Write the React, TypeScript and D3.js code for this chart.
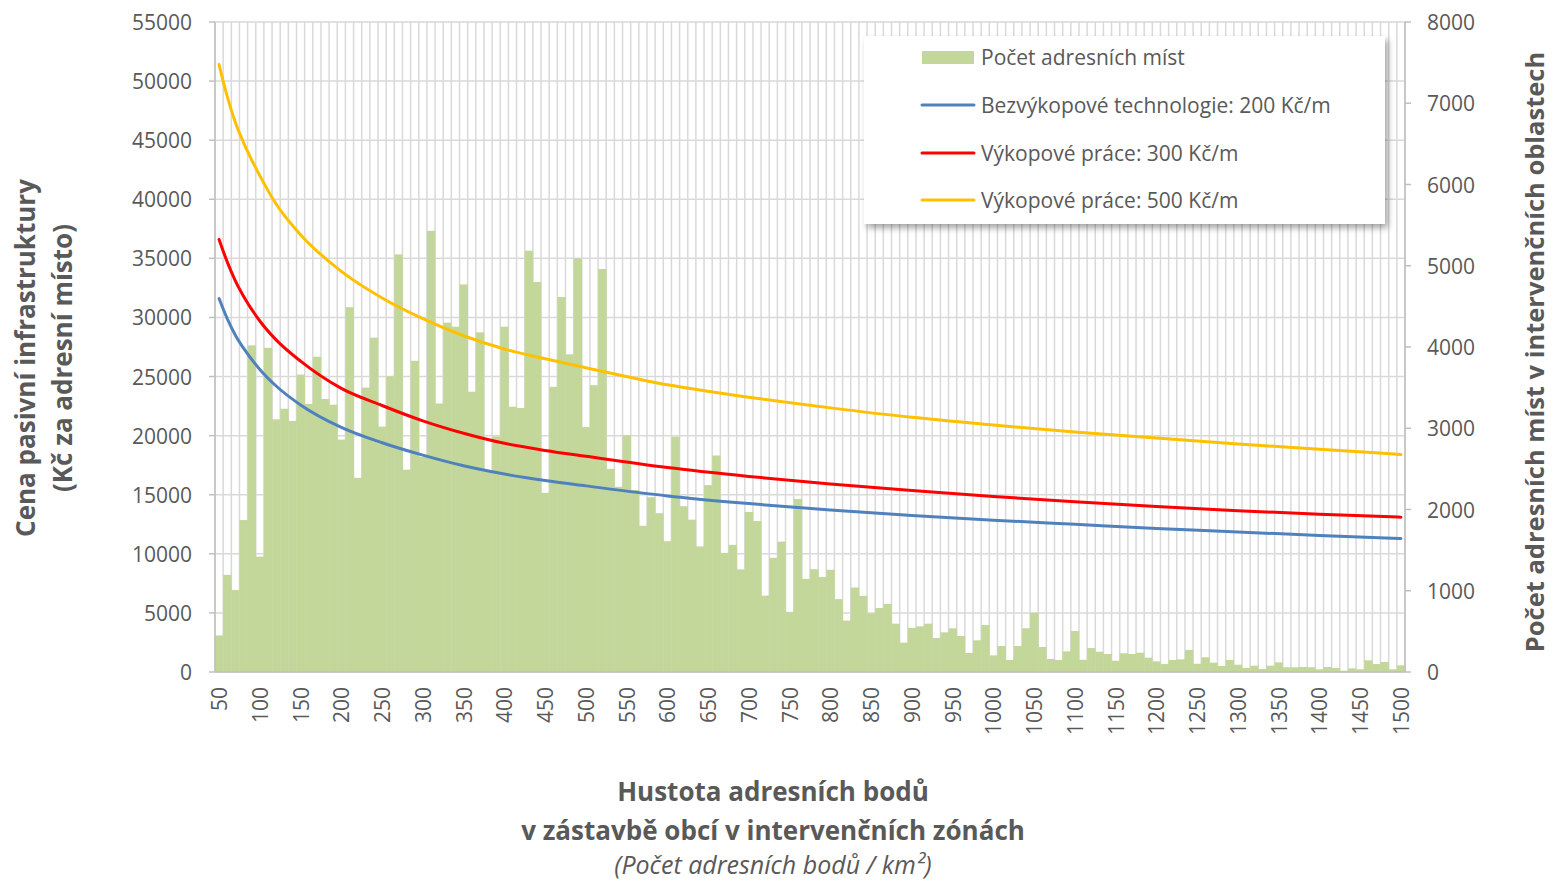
import React from "react";
import * as d3 from "d3";

// categories: density of address points per km2
const densities = d3.range(50, 1501, 10);

// bars: number of address points (right axis), one per category
const pocetMist = [
  450, 1195, 1010, 1870, 4020, 1420, 3990, 3110, 3240, 3090,
  3660, 3300, 3880, 3360, 3290, 2860, 4490, 2390, 3500, 4115,
  3020, 3640, 5140, 2490, 3830, 2650, 5430, 3305, 4300, 4250,
  4770, 3450, 4180, 2470, 2900, 4250, 3265, 3250, 5185, 4800,
  2205, 3510, 4615, 3910, 5090, 3015, 3530, 4960, 2500, 2280,
  2915, 2240, 1800, 2150, 1955, 1610, 2895, 2040, 1875, 1545,
  2300, 2665, 1465, 1565, 1262, 1970, 1858, 940, 1405, 1605,
  740, 2130, 1147, 1265, 1170, 1258, 897, 633, 1040, 937,
  723, 788, 838, 595, 361, 543, 562, 595, 418, 488,
  538, 443, 234, 390, 578, 205, 320, 148, 320, 538,
  730, 308, 160, 148, 254, 505, 151, 295, 250, 222,
  139, 230, 222, 238, 176, 131, 98, 148, 156, 271,
  102, 181, 115, 74, 148, 90, 49, 78, 37, 78,
  119, 58, 58, 62, 58, 33, 62, 49, 16, 45,
  33, 144, 98, 123, 33, 82,
];

// cost curves (left axis), read at these densities
const lineDensities = [50, 60, 70, 80, 100, 120, 150, 200, 250, 300, 350, 400, 450, 500, 600, 700, 800, 900, 1000, 1100, 1200, 1300, 1400, 1500];
const bezvykopove = [31600, 29900, 28500, 27400, 25600, 24200, 22600, 20700, 19400, 18350, 17450, 16750, 16200, 15750, 14900, 14250, 13700, 13250, 12850, 12500, 12150, 11850, 11550, 11300];
const vykop300 = [36600, 34700, 33100, 31800, 29700, 28100, 26300, 24000, 22550, 21250, 20200, 19350, 18750, 18250, 17300, 16550, 15900, 15350, 14850, 14400, 14000, 13650, 13350, 13100];
const vykop500 = [51400, 48700, 46500, 44800, 42000, 39600, 37000, 33900, 31650, 29900, 28450, 27330, 26500, 25750, 24300, 23250, 22350, 21550, 20900, 20300, 19800, 19300, 18850, 18400];

const leftTicks = d3.range(0, 55001, 5000);
const rightTicks = d3.range(0, 8001, 1000);
const xTickLabels = densities.filter((d) => d % 50 === 0);

const series = [
  { name: "Bezvýkopové technologie: 200 Kč/m", values: bezvykopove, color: "#4f81bd" },
  { name: "Výkopové práce: 300 Kč/m", values: vykop300, color: "#ff0000" },
  { name: "Výkopové práce: 500 Kč/m", values: vykop500, color: "#ffc000" },
];

const W = 1553;
const H = 882;
const plot = { left: 215, right: 1405, top: 22, bottom: 672 };
const textColor = "#595959";
const font = "'Open Sans', sans-serif";
const barColor = "#c4d79b";

export default function App() {
  const x = d3.scaleBand<number>().domain(densities).range([plot.left, plot.right]).padding(0);
  const yL = d3.scaleLinear().domain([0, 55000]).range([plot.bottom, plot.top]);
  const yR = d3.scaleLinear().domain([0, 8000]).range([plot.bottom, plot.top]);
  const cx = (d: number) => (x(d) as number) + x.bandwidth() / 2;

  const lineGen = d3
    .line<number>()
    .x((_, i) => cx(lineDensities[i]))
    .y((v) => yL(v))
    .curve(d3.curveMonotoneX);

  const gridX = densities.map((d) => x(d) as number).concat([plot.right]);

  const legendY = [57, 105, 153, 200];

  return (
    <svg width={W} height={H} style={{ position: "absolute", left: 0, top: 0, background: "#fff" }} fontFamily={font}>
      <defs>
        <filter id="shadow" x="-10%" y="-10%" width="130%" height="140%">
          <feDropShadow dx="3" dy="4" stdDeviation="3" floodColor="#000" floodOpacity="0.35" />
        </filter>
      </defs>

      {/* grid */}
      <g stroke="#d9d9d9" strokeWidth={1.5}>
        {gridX.map((gx, i) => (
          <line key={"gx" + i} x1={gx} x2={gx} y1={plot.top} y2={plot.bottom} />
        ))}
        {leftTicks.map((t) => (
          <line key={"gy" + t} x1={plot.left} x2={plot.right} y1={yL(t)} y2={yL(t)} />
        ))}
      </g>

      {/* bars */}
      <g fill={barColor}>
        {pocetMist.map((v, i) => (
          <rect key={i} x={x(densities[i])} y={yR(v)} width={x.bandwidth() + 0.3} height={yR(0) - yR(v)} />
        ))}
      </g>

      {/* axes */}
      <g stroke="#bfbfbf" strokeWidth={1.5}>
        <line x1={plot.left} x2={plot.left} y1={plot.top} y2={plot.bottom} />
        <line x1={plot.right} x2={plot.right} y1={plot.top} y2={plot.bottom} />
        <line x1={plot.left} x2={plot.right} y1={plot.bottom} y2={plot.bottom} />
        {leftTicks.map((t) => (
          <line key={"lt" + t} x1={plot.left - 6} x2={plot.left} y1={yL(t)} y2={yL(t)} />
        ))}
        {rightTicks.map((t) => (
          <line key={"rt" + t} x1={plot.right} x2={plot.right + 6} y1={yR(t)} y2={yR(t)} />
        ))}
      </g>

      {/* lines */}
      {series.map((s) => (
        <path key={s.name} d={lineGen(s.values) || ""} fill="none" stroke={s.color} strokeWidth={3} strokeLinecap="round" />
      ))}

      {/* tick labels */}
      <g fill={textColor} fontSize={21}>
        {leftTicks.map((t) => (
          <text key={"ll" + t} x={192} y={yL(t)} textAnchor="end" dominantBaseline="central">
            {t}
          </text>
        ))}
        {rightTicks.map((t) => (
          <text key={"rl" + t} x={1427} y={yR(t)} textAnchor="start" dominantBaseline="central">
            {t}
          </text>
        ))}
        {xTickLabels.map((d) => (
          <text
            key={"xl" + d}
            transform={`translate(${cx(d)},${plot.bottom + 15}) rotate(-90)`}
            textAnchor="end"
            dominantBaseline="central"
          >
            {d}
          </text>
        ))}
      </g>

      {/* axis titles */}
      <g fill={textColor} fontWeight="bold" fontSize={26} textAnchor="middle">
        <text transform="translate(25,358) rotate(-90)" dominantBaseline="central">
          Cena pasivní infrastruktury
        </text>
        <text transform="translate(62,358) rotate(-90)" dominantBaseline="central">
          (Kč za adresní místo)
        </text>
        <text transform="translate(1534,352) rotate(-90)" dominantBaseline="central" fontSize={25.5}>
          Počet adresních míst v intervenčních oblastech
        </text>
        <text x={773} y={791} dominantBaseline="central">
          Hustota adresních bodů
        </text>
        <text x={773} y={830} dominantBaseline="central">
          v zástavbě obcí v intervenčních zónách
        </text>
        <text x={773} y={864} dominantBaseline="central" fontWeight="normal" fontStyle="italic" fontSize={25}>
          (Počet adresních bodů / km²)
        </text>
      </g>

      {/* legend */}
      <g>
        <rect x={864} y={36} width={521} height={188} fill="#fff" filter="url(#shadow)" />
        <rect x={922} y={51} width={52} height={13} fill={barColor} />
        <text x={981} y={legendY[0]} fill={textColor} fontSize={21} dominantBaseline="central">
          Počet adresních míst
        </text>
        {series.map((s, i) => (
          <g key={s.name}>
            <line x1={922} x2={974} y1={legendY[i + 1]} y2={legendY[i + 1]} stroke={s.color} strokeWidth={3} strokeLinecap="round" />
            <text x={981} y={legendY[i + 1]} fill={textColor} fontSize={21} dominantBaseline="central">
              {s.name}
            </text>
          </g>
        ))}
      </g>
    </svg>
  );
}
